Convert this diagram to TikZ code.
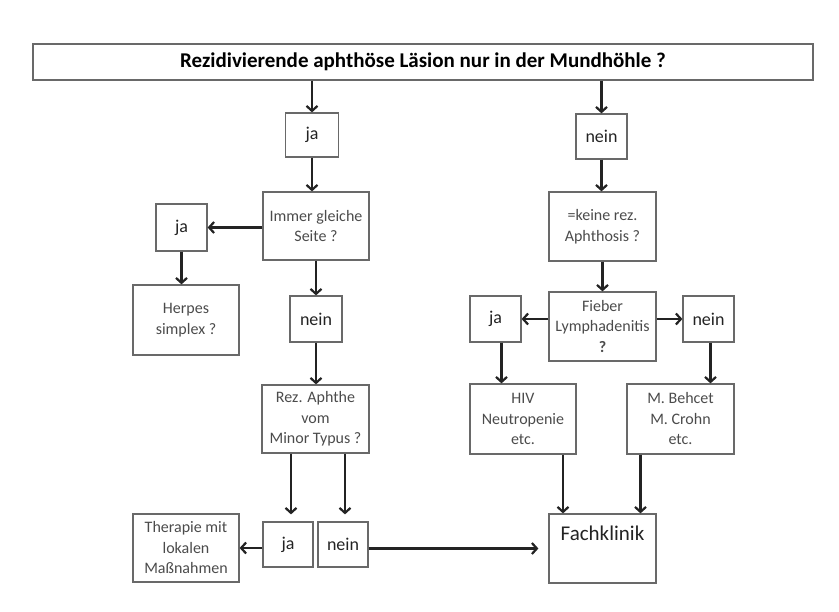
\documentclass[tikz,border=0pt]{standalone}
\usepackage{fontspec}
\setmainfont{Carlito}
\usepackage{xcolor}
\usepackage{tikz}
\usetikzlibrary{arrows.meta}
\definecolor{frame}{RGB}{105,105,105}
\definecolor{arrowc}{RGB}{35,35,35}
\definecolor{labelc}{RGB}{75,75,75}

\begin{document}
\begin{tikzpicture}[x=1pt,y=-1pt,
  box/.style={draw=frame,line width=1.2pt,rectangle,inner sep=0pt,align=center,
    text=labelc,font=\fontsize{16}{20.5}\selectfont},
  jn/.style={box,text=arrowc,font=\fontsize{18}{20}\selectfont},
  arr/.style={draw=arrowc,line width=2.2pt,-{Straight Barb[length=5pt,width=11pt]}}]
\useasboundingbox (0,0) rectangle (839,612);
% question on top
\node[box,minimum width=780pt,minimum height=36pt,text=black,
  font=\fontsize{21}{22}\selectfont\bfseries] (title) at (423,62)
  {Rezidivierende aphthöse Läsion nur in der Mundhöhle ?};
% left branch
\node[jn,minimum width=53pt,minimum height=44pt] (jaA) at (312,135) {ja};
\node[box,minimum width=106pt,minimum height=68pt] (immer) at (316,226) {Immer gleiche\\Seite ?};
\node[jn,minimum width=51pt,minimum height=47pt] (jaB) at (181.5,227.5) {ja};
\node[box,minimum width=106pt,minimum height=70pt] (herpes) at (186,320) {Herpes\\simplex ?};
\node[jn,minimum width=52pt,minimum height=46pt] (neinB) at (316,319) {nein};
\node[box,minimum width=107pt,minimum height=68pt] (rez) at (315.5,419) {Rez. Aphthe\\vom\\Minor Typus ?};
\node[jn,minimum width=50pt,minimum height=45pt] (jaD) at (288,544.5) {ja};
\node[jn,minimum width=50pt,minimum height=45pt] (neinD) at (343,544.5) {nein};
\node[box,minimum width=106pt,minimum height=68pt] (therapie) at (186,548) {Therapie mit\\lokalen\\Maßnahmen};
% right branch
\node[jn,minimum width=51pt,minimum height=45pt] (neinA) at (601.5,136.5) {nein};
\node[box,minimum width=107pt,minimum height=69pt] (keine) at (602.5,226.5) {=keine rez.\\Aphthosis ?};
\node[box,minimum width=107pt,minimum height=69pt] (fieber) at (602.5,326.5) {Fieber\\Lymphadenitis\\\textbf{?}};
\node[jn,minimum width=51pt,minimum height=46pt] (jaC) at (495.5,319) {ja};
\node[jn,minimum width=51pt,minimum height=46pt] (neinC) at (708.5,319) {nein};
\node[box,minimum width=106pt,minimum height=70pt] (hiv) at (523,419) {HIV\\Neutropenie\\etc.};
\node[box,minimum width=107pt,minimum height=70pt] (behcet) at (680.5,419) {M. Behcet\\M. Crohn\\etc.};
\node[jn,minimum width=107pt,minimum height=69pt,font=\fontsize{21}{22}\selectfont] (fach) at (602.5,548.5) {Fachklinik\\[1pt]\strut};
% arrows
\draw[arr] (title.south -| jaA.north) -- (jaA.north);
\draw[arr] (title.south -| neinA.north) -- (neinA.north);
\draw[arr] (jaA.south) -- (jaA.south |- immer.north);
\draw[arr] (jaB.east -| immer.west) -- (jaB.east);
\draw[arr] (jaB.south) -- (jaB.south |- herpes.north);
\draw[arr] (immer.south) -- (neinB.north);
\draw[arr] (neinB.south) -- (neinB.south |- rez.north);
\draw[arr,shorten >=7pt] (rez.south -| jaD.north) ++(3,0) coordinate (r1) -- (r1 |- jaD.north);
\draw[arr,shorten >=7pt] (rez.south -| neinD.north) ++(2,0) coordinate (r2) -- (r2 |- neinD.north);
\draw[arr] (jaD.west |- therapie.east) -- (therapie.east);
\draw[arr,shorten >=10pt] (neinD.east |- fach.west) -- (fach.west);
\draw[arr] (neinA.south) -- (neinA.south |- keine.north);
\draw[arr] (keine.south) -- (fieber.north);
\draw[arr] (jaC.east -| fieber.west) -- (jaC.east);
\draw[arr] (neinC.west -| fieber.east) -- (neinC.west);
\draw[arr] (jaC.south) ++(6,0) coordinate (c1) -- (c1 |- hiv.north);
\draw[arr] (neinC.south) ++(2,0) coordinate (c2) -- (c2 |- behcet.north);
\draw[arr] (hiv.south) ++(40,0) coordinate (h1) -- (h1 |- fach.north);
\draw[arr] (behcet.south) ++(-40,0) coordinate (b1) -- (b1 |- fach.north);
\end{tikzpicture}
\end{document}
